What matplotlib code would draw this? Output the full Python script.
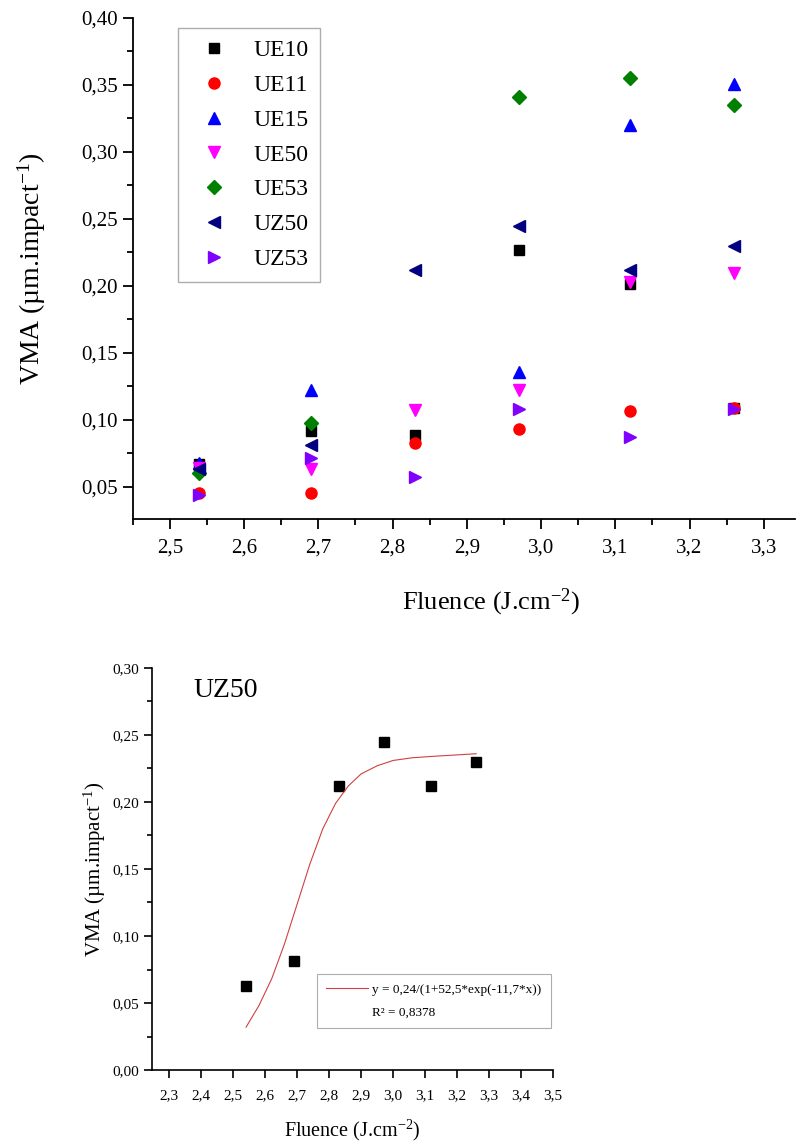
import matplotlib
matplotlib.use("Agg")
import matplotlib.pyplot as plt
from matplotlib.ticker import FuncFormatter, MultipleLocator
from matplotlib.lines import Line2D
import numpy as np

plt.rcParams['font.family'] = ['Liberation Serif', 'DejaVu Serif']
plt.rcParams['mathtext.fontset'] = 'custom'
plt.rcParams['mathtext.rm'] = 'Liberation Serif'
plt.rcParams['mathtext.it'] = 'Liberation Serif:italic'

# fluence values (J.cm-2)
fluence = [2.54, 2.69, 2.83, 2.97, 3.12, 3.26]

# VMA values per sample (um.impact-1), nan = no visible point
ue10 = [0.067, 0.092, 0.089, 0.2265, 0.2015, 0.109]
ue11 = [0.0455, 0.0457, 0.083, 0.093, 0.107, 0.109]
ue15 = [0.068, 0.122, np.nan, 0.1355, 0.320, 0.351]
ue50 = [0.064, 0.063, 0.1076, 0.1223, 0.203, 0.2094]
ue53 = [0.060, 0.0974, np.nan, 0.341, 0.355, 0.335]
uz50 = [0.063, 0.081, 0.212, 0.245, 0.212, 0.230]
uz53 = [0.044, 0.0716, 0.057, 0.108, 0.0873, 0.108]

# fitted curve for UZ50
fit_x = [2.54, 2.58, 2.62, 2.66, 2.70, 2.74, 2.78, 2.82, 2.86, 2.90, 2.95, 3.00, 3.06, 3.12, 3.19, 3.26]
fit_y = [0.032, 0.048, 0.068, 0.094, 0.124, 0.154, 0.180, 0.199, 0.212, 0.221, 0.227, 0.231, 0.233, 0.234, 0.235, 0.236]

series = [
    ('UE10', ue10, 's', 'black', 7),
    ('UE11', ue11, 'o', 'red', 8),
    ('UE15', ue15, '^', 'blue', 8.5),
    ('UE50', ue50, 'v', 'magenta', 8.5),
    ('UE53', ue53, 'D', 'green', 7),
    ('UZ50', uz50, '<', 'navy', 8.5),
    ('UZ53', uz53, '>', '#8000ff', 8.5),
]

comma2 = FuncFormatter(lambda v, p: f"{v:.2f}".replace('.', ','))
comma1 = FuncFormatter(lambda v, p: f"{v:.1f}".replace('.', ','))


def style_axes(ax, lw, major_len, minor_len):
    ax.spines['top'].set_visible(False)
    ax.spines['right'].set_visible(False)
    ax.spines['left'].set_linewidth(lw)
    ax.spines['bottom'].set_linewidth(lw)
    ax.tick_params(which='major', direction='out', length=major_len, width=lw)
    ax.tick_params(which='minor', direction='out', length=minor_len, width=lw)


fig = plt.figure(figsize=(7.99, 11.45), dpi=100)

# top chart: all samples
ax1 = fig.add_axes([0.166, 0.5467, 0.829, 0.4376])
for name, vals, mk, col, ms in series:
    ax1.plot(fluence, vals, linestyle='none', marker=mk, color=col,
             markersize=ms, label=name)
ax1.set_xlim(2.45, 3.342)
ax1.set_ylim(0.026, 0.40)
ax1.xaxis.set_major_locator(MultipleLocator(0.1))
ax1.xaxis.set_minor_locator(MultipleLocator(0.05))
ax1.yaxis.set_major_locator(MultipleLocator(0.05))
ax1.yaxis.set_minor_locator(MultipleLocator(0.025))
ax1.xaxis.set_major_formatter(comma1)
ax1.yaxis.set_major_formatter(comma2)
style_axes(ax1, 1.3, 7, 4.5)
ax1.tick_params(labelsize=15)
ax1.tick_params(axis='x', which='major', pad=7)
ax1.set_xlabel('Fluence (J.cm$^{-2}$)', fontsize=19)
ax1.xaxis.set_label_coords(0.541, -0.135)
ax1.set_ylabel('VMA (µm.impact$^{-1}$)', fontsize=20)
ax1.yaxis.set_label_coords(-0.128, 0.5)
leg = ax1.legend(loc='upper left', bbox_to_anchor=(0.068, 0.98), fontsize=17,
                 frameon=True, fancybox=False, edgecolor='#999999',
                 labelspacing=0.56, handletextpad=0.6, borderpad=0.5,
                 handlelength=2.1, borderaxespad=0)
leg.get_frame().set_linewidth(1.0)

# bottom chart: UZ50 with fit
ax2 = fig.add_axes([0.190, 0.0655, 0.502, 0.3511])
ax2.plot(fluence, uz50, linestyle='none', marker='s', color='black', markersize=6.5)
fit_line, = ax2.plot(fit_x, fit_y, color='#d04040', linewidth=0.8)
ax2.set_xlim(2.245, 3.5)
ax2.set_ylim(0.0, 0.30)
ax2.xaxis.set_major_locator(MultipleLocator(0.1))
ax2.yaxis.set_major_locator(MultipleLocator(0.05))
ax2.yaxis.set_minor_locator(MultipleLocator(0.025))
ax2.xaxis.set_major_formatter(comma1)
ax2.yaxis.set_major_formatter(comma2)
style_axes(ax2, 1.2, 5.5, 3.5)
ax2.tick_params(labelsize=11)
ax2.tick_params(axis='x', which='major', pad=8)
ax2.set_xlabel('Fluence (J.cm$^{-2}$)', fontsize=14.5)
ax2.xaxis.set_label_coords(0.5, -0.118)
ax2.set_ylabel('VMA (µm.impact$^{-1}$)', fontsize=15)
ax2.yaxis.set_label_coords(-0.11, 0.5)
ax2.text(0.105, 0.975, 'UZ50', transform=ax2.transAxes, fontsize=20,
         va='top', ha='left')
blank = Line2D([], [], linestyle='none')
leg2 = ax2.legend([fit_line, blank],
                  ['y = 0,24/(1+52,5*exp(-11,7*x))', 'R² = 0,8378'],
                  loc='lower right', bbox_to_anchor=(0.995, 0.105), fontsize=9.5,
                  frameon=True, fancybox=False, edgecolor='#999999',
                  handlelength=3.2, handletextpad=0.3, labelspacing=0.8,
                  borderpad=0.7, borderaxespad=0)
leg2.get_frame().set_linewidth(0.8)

fig.savefig('out.png', dpi=100)
